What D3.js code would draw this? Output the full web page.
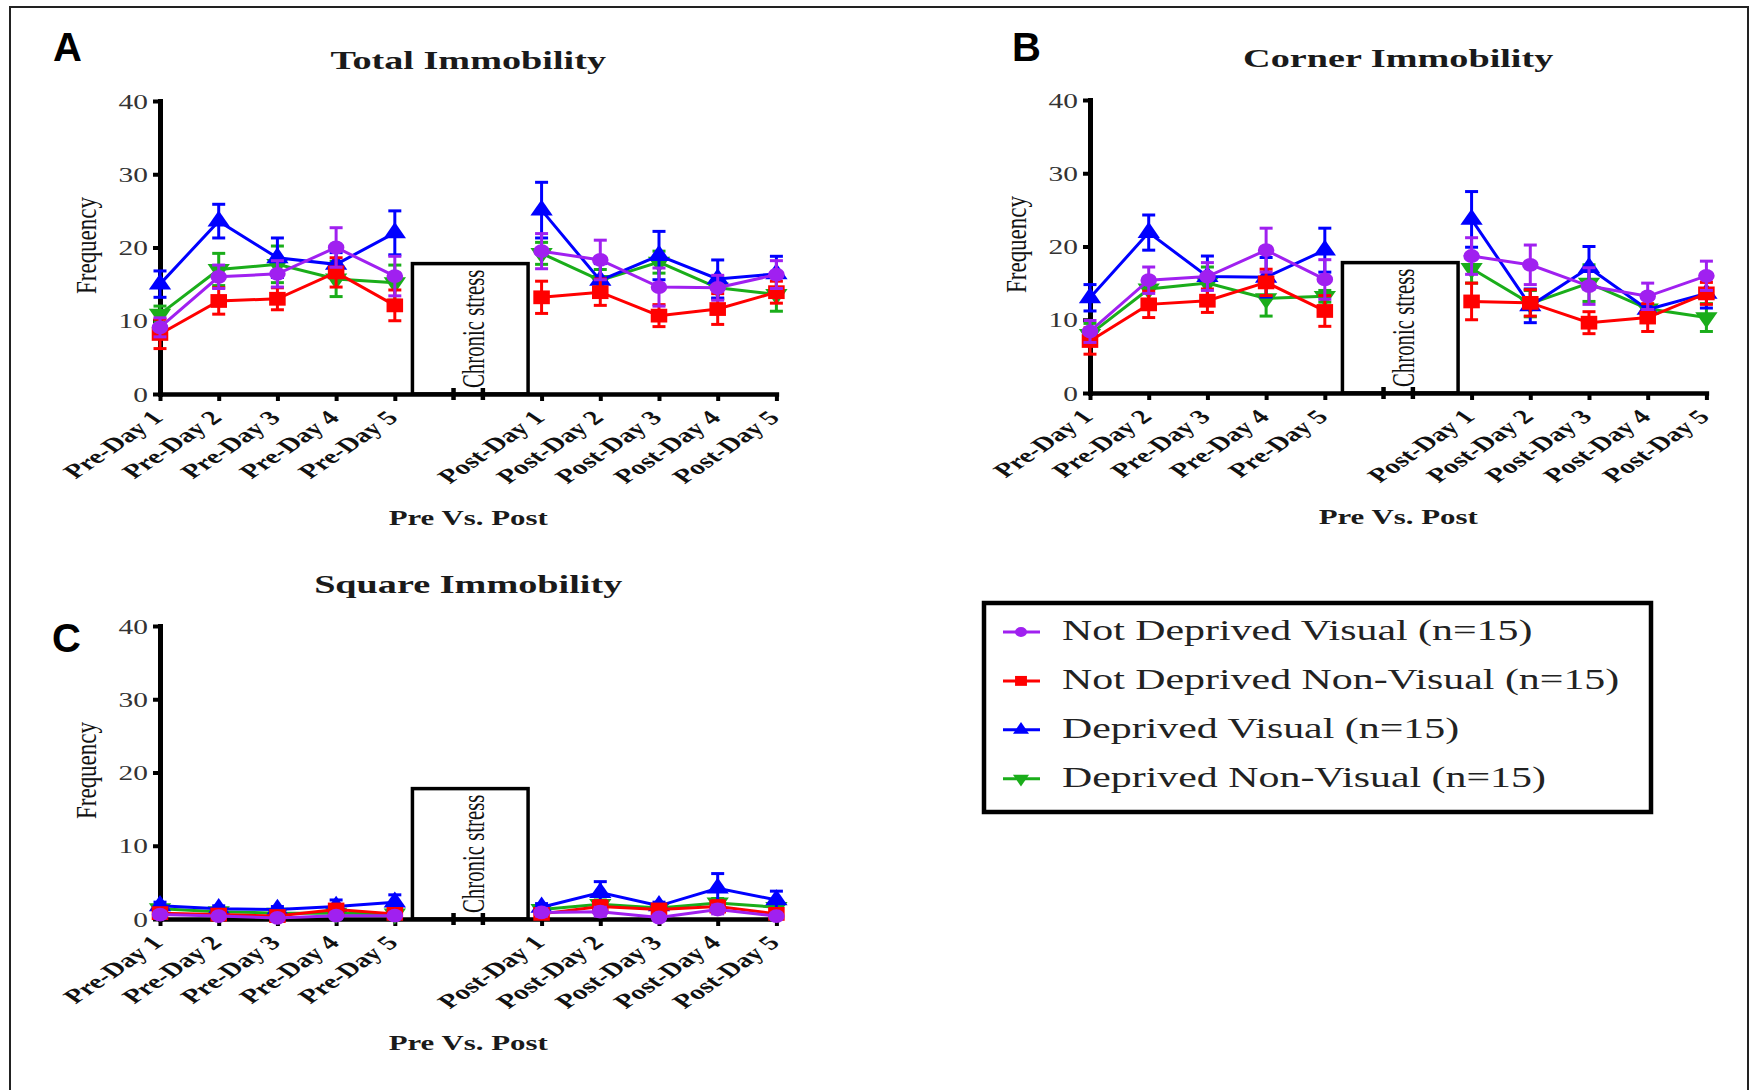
<!DOCTYPE html>
<html>
<head>
<meta charset="utf-8">
<script src="https://cdn.jsdelivr.net/npm/d3@7"></script>
<style>
  html, body { margin: 0; padding: 0; background: #fff; }
  svg { display: block; }
</style>
</head>
<body>
<svg id="chart" width="1754" height="1090"></svg>
<script>
// ---- data ----
const dayLabels = ["Pre-Day 1", "Pre-Day 2", "Pre-Day 3", "Pre-Day 4", "Pre-Day 5",
                   "Post-Day 1", "Post-Day 2", "Post-Day 3", "Post-Day 4", "Post-Day 5"];
const groupNames = ["Not Deprived Visual (n=15)", "Not Deprived Non-Visual (n=15)",
                    "Deprived Visual (n=15)", "Deprived Non-Visual (n=15)"];
const yTicks = [0, 10, 20, 30, 40];
const stressBar = 17.8;   // height of the "Chronic stress" block

// series order: Not Deprived Visual, Not Deprived Non-Visual, Deprived Visual, Deprived Non-Visual
const totalMeans = [
  [9.1, 16.0, 16.4, 20.0, 16.1, 19.5, 18.3, 14.6, 14.5, 16.3],
  [8.2, 12.7, 13.0, 16.6, 12.1, 13.2, 13.9, 10.7, 11.6, 13.9],
  [15.0, 23.6, 18.6, 17.7, 22.0, 25.1, 15.5, 18.9, 15.7, 16.4],
  [10.9, 17.0, 17.7, 15.7, 15.2, 19.2, 15.5, 18.0, 14.5, 13.6]
];
const totalSem = [
  [1.3, 1.6, 1.8, 2.7, 2.7, 2.4, 2.7, 2.6, 1.7, 1.9],
  [2.0, 1.8, 1.5, 2.0, 2.1, 2.2, 1.8, 1.5, 2.1, 1.5],
  [1.8, 2.3, 2.7, 1.6, 3.0, 3.8, 2.3, 3.3, 2.6, 2.4],
  [1.1, 2.2, 2.5, 2.4, 2.4, 1.5, 1.5, 1.5, 1.5, 2.3]
];
const cornerMeans = [
  [8.4, 15.4, 15.9, 19.5, 15.5, 18.7, 17.5, 14.6, 13.2, 16.0],
  [7.1, 12.1, 12.6, 15.1, 11.2, 12.5, 12.3, 9.6, 10.3, 13.6],
  [13.0, 21.9, 15.9, 15.8, 19.5, 23.7, 11.9, 17.1, 11.4, 13.6],
  [8.0, 14.2, 15.0, 12.9, 13.2, 17.0, 12.2, 15.0, 11.5, 10.3]
];
const cornerSem = [
  [1.5, 1.8, 1.9, 3.0, 2.7, 2.5, 2.7, 2.5, 1.8, 2.0],
  [1.8, 1.8, 1.6, 1.8, 2.1, 2.5, 1.8, 1.5, 1.9, 1.5],
  [1.8, 2.4, 2.8, 2.7, 3.0, 3.8, 2.3, 2.9, 1.5, 2.0],
  [1.5, 1.5, 2.2, 2.4, 0.8, 2.0, 1.8, 2.5, 1.5, 1.9]
];
const squareMeans = [
  [0.6, 0.4, 0.15, 0.45, 0.45, 0.9, 1.0, 0.2, 1.3, 0.4],
  [0.8, 0.6, 0.4, 1.3, 0.7, 0.7, 1.7, 1.3, 1.7, 0.7],
  [1.8, 1.4, 1.3, 1.7, 2.3, 1.6, 3.6, 1.8, 4.2, 2.6],
  [1.4, 1.0, 0.8, 0.8, 0.7, 1.3, 2.0, 1.5, 2.2, 1.6]
];
const squareSem = [
  [0.4, 0.3, 0.3, 0.4, 0.4, 0.5, 0.6, 0.3, 0.6, 0.3],
  [0.5, 0.4, 0.4, 0.6, 0.5, 0.5, 0.8, 0.6, 0.8, 0.5],
  [0.5, 0.4, 0.4, 0.9, 1.0, 0.5, 1.5, 0.5, 2.0, 1.2],
  [0.5, 0.4, 0.4, 0.4, 0.4, 0.5, 0.6, 0.5, 0.6, 0.5]
];

// ---- style ----
const colors = ["#a020f0", "#ff0000", "#0000ff", "#1aad1a"];
const symbols = [d3.symbolCircle, d3.symbolSquare, d3.symbolTriangle, d3.symbolTriangle];
const symSize = [150, 190, 150, 150];
const symRot = [0, 0, 0, 180];
const SX = 1.47;           // the figure is stretched sideways
const serif = "'Liberation Serif', 'Times New Roman', serif";

const svg = d3.select("#chart");

// outer frame
svg.append("rect")
  .attr("x", 10).attr("y", 7).attr("width", 1738).attr("height", 1100)
  .attr("fill", "none").attr("stroke", "#222").attr("stroke-width", 2);

// pre days at 0..4, post days after the gap
function dayPos(i) { return i < 5 ? i : i + 1.5; }

function stretchedText(g, x, y, rot, str, sx) {
  return g.append("text")
    .attr("transform", `translate(${x},${y}) scale(${sx || SX},1) rotate(${rot})`)
    .style("font-family", serif)
    .text(str);
}

function marker(g, k, x, y, scale) {
  g.append("path")
    .attr("d", d3.symbol().type(symbols[k]).size(symSize[k])())
    .attr("transform", `translate(${x},${y}) scale(${1.2 * scale},${scale}) rotate(${symRot[k]})`)
    .attr("fill", colors[k]);
}

function drawPanel(p) {
  const g = svg.append("g");
  const x = d3.scaleLinear().domain([0, 10.5]).range([p.x0, p.x0 + 616.4]);
  const y = d3.scaleLinear().domain([0, 40]).range([p.yBot, p.yTop]);

  // chronic stress block
  g.append("rect")
    .attr("x", x(4.3)).attr("y", y(stressBar))
    .attr("width", x(6.27) - x(4.3)).attr("height", y(0) - y(stressBar))
    .attr("fill", "#fff").attr("stroke", "#000").attr("stroke-width", 3.5);
  stretchedText(g, x(5.52), p.yBot - 6, -90, "Chronic stress")
    .style("font-size", "20.8px").attr("fill", "#111");

  // y axis
  const ya = g.append("g").attr("transform", `translate(${p.x0},0)`)
    .call(d3.axisLeft(y).tickValues(yTicks).tickSize(7).tickSizeOuter(0));
  ya.select(".domain").attr("stroke-width", 5).attr("stroke-linecap", "square");
  ya.selectAll(".tick line").attr("stroke-width", 4);
  ya.selectAll(".tick text")
    .attr("x", 0).attr("dy", "0.36em")
    .attr("transform", `translate(-12,0) scale(${SX},1)`)
    .attr("fill", "#333")
    .style("font-family", serif).style("font-size", "20px");

  // x axis
  const xa = g.append("g").attr("transform", `translate(0,${p.yBot})`)
    .call(d3.axisBottom(x).tickValues(d3.range(10).map(dayPos))
      .tickFormat((d, i) => dayLabels[i]).tickSize(7).tickSizeOuter(0));
  xa.select(".domain").attr("stroke-width", 4.5).attr("stroke-linecap", "square");
  xa.selectAll(".tick line").attr("stroke-width", 4);
  xa.selectAll(".tick text")
    .attr("x", 0).attr("y", 0).attr("dy", 0)
    .attr("text-anchor", "end")
    .attr("transform", `translate(4,25) scale(${SX},1) rotate(-45)`)
    .attr("fill", "#111")
    .style("font-family", serif).style("font-size", "20px").style("font-weight", "bold");

  // axis break marks
  [5, 5.5].forEach(b => {
    g.append("line")
      .attr("x1", x(b)).attr("x2", x(b))
      .attr("y1", p.yBot - 6).attr("y2", p.yBot + 6)
      .attr("stroke", "#000").attr("stroke-width", 4.5);
  });

  // series: drawn so that purple ends on top
  const line = d3.line().x(d => x(dayPos(d.i))).y(d => y(d.v));
  [3, 2, 1, 0].forEach(k => {
    const m = p.means[k], e = p.sem[k];
    const s = g.append("g");
    m.forEach((v, i) => {
      const cx = x(dayPos(i));
      s.append("line").attr("x1", cx).attr("x2", cx)
        .attr("y1", y(v - e[i])).attr("y2", y(v + e[i]))
        .attr("stroke", colors[k]).attr("stroke-width", 3);
      [v - e[i], v + e[i]].forEach(c => {
        s.append("line").attr("x1", cx - 6.5).attr("x2", cx + 6.5)
          .attr("y1", y(c)).attr("y2", y(c))
          .attr("stroke", colors[k]).attr("stroke-width", 3);
      });
    });
    // pre and post segments are not joined across the stress block
    const pts = m.map((v, i) => ({ i, v }));
    [pts.slice(0, 5), pts.slice(5)].forEach(seg => {
      s.append("path")
        .datum(seg)
        .attr("d", line)
        .attr("fill", "none").attr("stroke", colors[k]).attr("stroke-width", 3);
    });
    m.forEach((v, i) => marker(s, k, x(dayPos(i)), y(v), 1));
  });

  // texts
  stretchedText(g, (p.x0 + x(10.5)) / 2, p.titleY, 0, p.title)
    .attr("text-anchor", "middle").attr("fill", "#1a1a1a")
    .style("font-size", "26px").style("font-weight", "bold");
  stretchedText(g, (p.x0 + x(10.5)) / 2, p.yBot + 131, 0, "Pre Vs. Post")
    .attr("text-anchor", "middle").attr("fill", "#1a1a1a")
    .style("font-size", "21px").style("font-weight", "bold");
  stretchedText(g, p.x0 - 64, (p.yTop + p.yBot) / 2 - 2, -90, "Frequency", 1.25)
    .attr("text-anchor", "middle").attr("fill", "#111")
    .style("font-size", "23px");
  g.append("text")
    .attr("x", p.letterX).attr("y", p.letterY)
    .style("font-family", "'Liberation Sans', Arial, sans-serif")
    .style("font-size", "40px").style("font-weight", "bold")
    .text(p.letter);
}

drawPanel({ x0: 160, yTop: 101, yBot: 394, title: "Total Immobility", titleY: 69,
  letter: "A", letterX: 53, letterY: 61, means: totalMeans, sem: totalSem });
drawPanel({ x0: 1090, yTop: 100, yBot: 393, title: "Corner Immobility", titleY: 67,
  letter: "B", letterX: 1012, letterY: 61, means: cornerMeans, sem: cornerSem });
drawPanel({ x0: 160, yTop: 626, yBot: 919, title: "Square Immobility", titleY: 593,
  letter: "C", letterX: 52, letterY: 652, means: squareMeans, sem: squareSem });

// legend
const lg = svg.append("g");
lg.append("rect")
  .attr("x", 984).attr("y", 603).attr("width", 667).attr("height", 209)
  .attr("fill", "#fff").attr("stroke", "#000").attr("stroke-width", 4.5);
groupNames.forEach((name, k) => {
  const by = 640 + k * 48.9;
  lg.append("line")
    .attr("x1", 1003).attr("x2", 1040).attr("y1", by - 8).attr("y2", by - 8)
    .attr("stroke", colors[k]).attr("stroke-width", 3);
  marker(lg, k, 1021, by - 8, 0.72);
  stretchedText(lg, 1062, by, 0, name)
    .attr("fill", "#222").style("font-size", "28.5px");
});
</script>
</body>
</html>
